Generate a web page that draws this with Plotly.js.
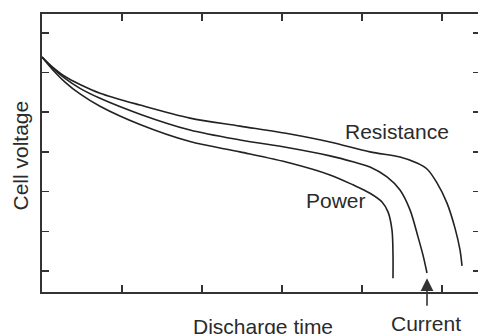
<!DOCTYPE html>
<html>
<head>
<meta charset="utf-8">
<script src="https://cdn.plot.ly/plotly-3.0.1.min.js"></script>
<style>html,body{margin:0;padding:0;background:#fff;}#chart{width:478px;height:334px;}</style>
</head>
<body>
<div id="chart"></div>
<script>
// Discharge time (arbitrary units) and cell voltage (arbitrary units)
const resistanceX = [0, 0.125, 0.2875, 0.475, 0.725, 1.225, 1.85, 2.475, 3.1, 3.6, 4.1, 4.475, 4.6875, 4.8125, 4.9375, 5.0625, 5.1625, 5.225, 5.25];
const resistanceY = [5.39, 5.15, 4.90, 4.70, 4.48, 4.18, 3.85, 3.65, 3.45, 3.25, 3.00, 2.87, 2.72, 2.57, 2.22, 1.71, 1.08, 0.53, 0.13];

const currentX = [0, 0.125, 0.2875, 0.475, 0.725, 1.225, 1.85, 2.475, 3.1, 3.6, 3.8875, 4.1, 4.3125, 4.475, 4.6, 4.7, 4.7625, 4.8125];
const currentY = [5.39, 5.13, 4.85, 4.60, 4.35, 3.95, 3.55, 3.30, 3.10, 2.90, 2.75, 2.62, 2.37, 2.04, 1.54, 0.86, 0.40, -0.05];

const powerX = [0, 0.125, 0.2875, 0.475, 0.725, 1.225, 1.85, 2.475, 3.1, 3.6, 3.8875, 4.1, 4.25, 4.325, 4.375, 4.3875, 4.3875];
const powerY = [5.39, 5.09, 4.76, 4.46, 4.15, 3.69, 3.26, 3.00, 2.72, 2.42, 2.17, 1.96, 1.74, 1.49, 1.03, 0.40, -0.18];

const seriesNames = ["Resistance", "Current", "Power"];
const xTicks = [0, 1, 2, 3, 4, 5];
const yTicks = [0, 1, 2, 3, 4, 5, 6];
const axisTitleX = "Discharge time";
const axisTitleY = "Cell voltage";

const lineStyle = {color: '#222', width: 1.6, shape: 'spline', smoothing: 0.9};
const traces = [
  {x: resistanceX, y: resistanceY, name: seriesNames[0], mode: 'lines', line: lineStyle, hoverinfo: 'skip'},
  {x: currentX, y: currentY, name: seriesNames[1], mode: 'lines', line: lineStyle, hoverinfo: 'skip'},
  {x: powerX, y: powerY, name: seriesNames[2], mode: 'lines', line: lineStyle, hoverinfo: 'skip'},
  {x: [0], y: [0], yaxis: 'y2', mode: 'markers', marker: {opacity: 0}, hoverinfo: 'skip', showlegend: false}
];

const font = {family: 'Liberation Sans, Arial, sans-serif', size: 21, color: '#2b2b2b'};
const W = 478, H = 334, mL = 42, mT = 14, mB = 42, mR = 0;
const pw = W - mL - mR, ph = H - mT - mB;
const px = v => (v - mL) / pw;
const py = v => (H - mB - v) / ph;

const layout = {
  width: W, height: H,
  margin: {l: mL, r: mR, t: mT, b: mB, pad: 0},
  paper_bgcolor: '#fff', plot_bgcolor: '#fff',
  showlegend: false,
  xaxis: {
    range: [0, pw / 80], tickvals: xTicks, showticklabels: false,
    ticks: 'inside', ticklen: 7, tickwidth: 1.5, tickcolor: '#333',
    showline: true, linecolor: '#333', linewidth: 1.8, mirror: 'ticks',
    showgrid: false, zeroline: false, fixedrange: true
  },
  yaxis: {
    range: [-(H - mB - 271) / 39.7, (271 - mT) / 39.7], tickvals: yTicks, showticklabels: false,
    ticks: 'inside', ticklen: 7, tickwidth: 1.5, tickcolor: '#333',
    showline: true, linecolor: '#333', linewidth: 1.8, mirror: false,
    showgrid: false, zeroline: false, fixedrange: true
  },
  yaxis2: {
    overlaying: 'y', side: 'right', matches: 'y', tickvals: yTicks, showticklabels: false,
    ticks: 'inside', ticklen: 5, tickwidth: 1.5, tickcolor: '#333',
    showline: false, showgrid: false, zeroline: false, fixedrange: true
  },
  annotations: [
    {xref: 'paper', yref: 'paper', x: px(396.5), y: py(131.5), text: seriesNames[0], showarrow: false, font: font, xanchor: 'center', yanchor: 'middle'},
    {xref: 'paper', yref: 'paper', x: px(336), y: py(200), text: seriesNames[2], showarrow: false, font: font, xanchor: 'center', yanchor: 'middle'},
    {xref: 'paper', yref: 'paper', x: px(425.5), y: py(323), text: seriesNames[1], showarrow: false, font: font, xanchor: 'center', yanchor: 'middle'},
    {xref: 'paper', yref: 'paper', x: px(262.5), y: py(326), text: axisTitleX, showarrow: false, font: font, xanchor: 'center', yanchor: 'middle'},
    {xref: 'paper', yref: 'paper', x: px(20.5), y: py(156), text: axisTitleY, showarrow: false, font: font, textangle: -90, xanchor: 'center', yanchor: 'middle'},
    {xref: 'x', yref: 'y', x: currentX[currentX.length - 1], y: -0.18, ax: 0, ay: 29, text: '', showarrow: true,
     arrowhead: 2, arrowsize: 1.6, arrowwidth: 1.6, arrowcolor: '#333', standoff: 0}
  ]
};

Plotly.newPlot('chart', traces, layout, {staticPlot: true, displayModeBar: false});
</script>
</body>
</html>
